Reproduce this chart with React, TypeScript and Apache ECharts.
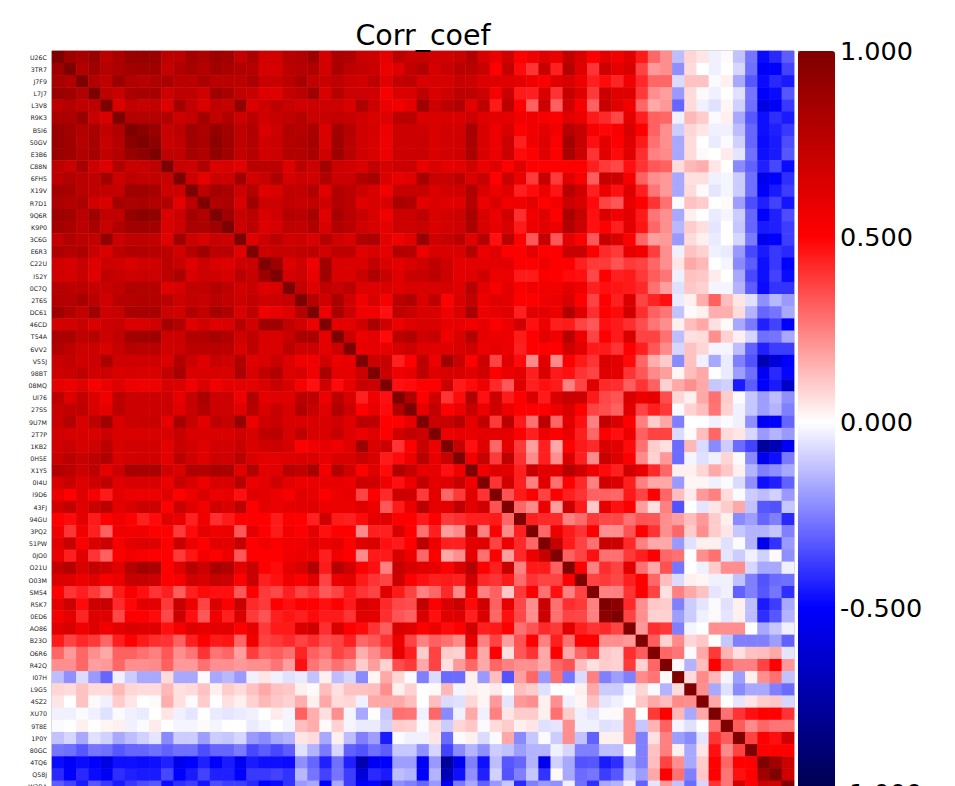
import React, { useEffect, useRef } from "react";
import * as echarts from "echarts";

const labels = ["U26C","3TR7","J7F9","L7J7","L3V8","R9K3","B5I6","50GV","E3B6","C88N","6FH5","X19V","R7D1","9Q6R","K9P0","3C6G","E6R3","C22U","I52Y","0C7Q","2T6S","DC61","46CD","T54A","6VV2","V55J","98BT","08MQ","UI76","27SS","9U7M","2T7P","1KB2","0H5E","X1Y5","0I4U","I9D6","43FJ","94GU","3PQ2","51PW","0JO0","O21U","O03M","SM54","R5K7","0ED6","AO86","B23O","O6R6","R42Q","I07H","L9G5","4SZ2","XU70","9T8E","1P0Y","80GC","4TQ6","Q58J","W3BA"];

// Upper triangle of the correlation matrix, in hundredths. Each row starts at its diagonal cell.
const r01 = [100,88,84,90,76,83,90,91,90,76,76,85,82,88,86,74,82,68,68,78,80,88,67,83,80,72,70,60,76,72,72,68,68,72,80,66,58,68,50,56,62,58,74,64,50,60,55,62,45,30,22,-13,8,5,-3,-1,-12,-27,-48,-42,-32];
const r02 = [100,80,87,79,82,86,87,87,72,80,84,79,86,83,80,79,66,66,76,78,80,67,83,75,73,71,57,63,74,79,66,71,77,76,71,50,74,48,40,72,44,79,62,40,70,60,65,37,20,22,-22,7,0,-3,0,-8,-28,-52,-50,-37];
const r03 = [100,80,75,89,80,78,81,83,77,77,82,77,77,76,82,72,72,76,84,74,72,75,70,68,75,62,73,75,65,66,66,72,70,63,63,62,60,55,52,62,65,57,44,48,43,56,42,30,30,-7,12,12,-1,3,-17,-33,-48,-42,-45];
const r04 = [100,75,72,83,84,84,70,75,75,68,87,83,74,72,63,62,73,77,87,65,78,70,70,68,53,64,64,75,65,68,75,75,70,53,71,45,44,64,40,73,62,39,70,63,63,39,22,19,-20,7,1,-3,0,-6,-27,-50,-48,-33];
const r05 = [100,65,74,72,74,63,85,74,65,74,72,92,64,70,75,72,68,70,70,70,65,82,70,58,55,60,87,70,76,80,60,75,45,76,50,31,70,31,68,53,31,71,62,55,30,17,20,-30,7,-3,-6,2,-9,-28,-58,-53,-39];
const r06 = [100,80,79,79,80,70,73,85,74,80,70,76,68,72,74,78,72,72,74,72,68,65,63,76,76,64,65,65,65,70,62,60,60,56,56,53,52,62,57,45,42,36,60,44,31,30,-3,14,10,-1,3,-17,-33,-47,-41,-45];
const r07 = [100,95,90,72,76,87,82,91,85,75,80,64,70,80,78,83,64,85,78,68,66,57,70,70,70,65,67,67,84,65,57,65,50,55,60,55,78,72,53,49,52,65,50,31,22,-10,8,5,-3,-3,-13,-30,-47,-44,-39];
const r08 = [100,93,71,74,87,83,95,87,75,79,68,71,79,80,84,65,87,77,68,65,56,70,70,71,65,67,68,83,64,57,70,44,55,63,52,85,72,47,60,50,63,45,28,22,-17,7,0,-4,-1,-9,-30,-48,-45,-35];
const r09 = [100,75,74,84,80,92,85,74,78,68,70,79,79,83,68,87,77,68,65,57,70,70,71,65,67,68,82,65,57,70,48,50,62,50,83,70,40,60,48,62,41,25,23,-17,7,1,0,4,-5,-28,-47,-45,-33];
const r10 = [100,72,70,80,65,65,62,76,76,76,63,76,70,85,70,68,64,74,66,70,70,59,65,60,60,68,57,62,50,62,50,50,50,50,50,44,39,36,47,40,33,31,7,14,16,5,0,-23,-31,-44,-36,-48];
const r11 = [100,70,60,70,70,87,67,72,82,66,70,68,80,70,70,80,84,64,59,62,84,71,71,76,64,72,50,71,58,39,71,39,62,53,32,72,70,53,31,22,20,-17,6,6,-3,-2,-10,-28,-55,-50,-41];
const r12 = [100,76,85,83,70,79,62,65,74,74,80,62,80,76,70,65,56,72,72,72,64,67,68,80,64,57,62,44,48,57,46,78,68,44,57,47,63,44,27,20,-17,7,1,-5,-2,-10,-28,-50,-45,-38];
const r13 = [100,80,82,65,87,70,70,74,72,74,68,80,76,62,65,64,83,80,60,65,62,62,79,57,64,55,56,60,50,54,70,65,48,37,33,59,50,40,28,-1,12,10,0,1,-19,-35,-44,-37,-46];
const r14 = [100,87,72,76,65,68,79,77,84,62,84,77,71,65,56,70,70,75,64,67,70,83,65,57,68,41,55,62,50,83,72,47,64,56,60,45,27,22,-17,3,0,-4,-2,-10,-30,-50,-44,-35];
const r15 = [100,70,77,63,66,75,74,80,65,80,76,68,65,60,70,70,72,64,67,68,82,65,59,64,45,57,60,57,80,70,47,50,44,62,46,30,22,-14,10,6,-5,0,-11,-30,-45,-44,-38];
const r16 = [100,62,70,77,68,70,65,78,68,65,80,82,60,56,62,90,68,72,77,62,78,47,76,50,33,72,33,60,50,33,72,65,50,30,19,20,-20,7,3,-4,0,-8,-26,-54,-50,-38];
const r17 = [100,70,72,72,74,75,67,75,75,62,65,60,80,78,57,65,64,64,79,57,62,50,50,60,50,50,71,71,50,42,39,59,55,38,22,-3,12,9,-3,-4,-20,-36,-45,-39,-42];
const r18 = [100,88,63,68,56,87,65,64,65,74,65,60,65,68,75,68,60,60,60,60,60,50,50,56,50,50,44,39,39,34,39,37,30,22,5,17,14,0,-2,-23,-32,-47,-39,-50];
const r19 = [100,66,70,58,87,65,64,71,80,71,62,71,71,76,70,60,62,68,57,57,45,45,52,50,48,47,36,50,44,45,39,32,27,-3,12,11,4,0,-17,-36,-47,-37,-48];
const r20 = [100,73,63,74,71,76,63,63,65,62,65,65,65,66,63,78,60,53,60,52,55,55,55,60,56,44,47,46,45,42,28,19,-6,11,9,-2,-2,-15,-32,-48,-40,-40];
const r21 = [100,78,68,83,68,56,65,53,76,80,64,75,50,64,74,57,62,60,50,50,56,57,64,50,37,50,44,64,37,43,47,-4,3,16,31,13,5,-6,-22,-14,-20];
const r22 = [100,57,83,70,56,56,47,75,71,65,65,56,64,83,57,59,62,44,60,60,57,80,62,41,50,48,68,41,31,27,-12,1,3,16,16,7,-15,-30,-27,-17];
const r23 = [100,60,60,68,83,68,57,62,65,65,59,59,55,59,52,57,68,47,57,44,45,37,33,47,45,41,35,27,22,3,13,17,6,1,-17,-26,-44,-37,-50];
const r24 = [100,70,57,60,48,76,80,68,71,56,64,79,59,57,57,45,50,60,55,78,57,37,50,45,65,37,37,28,-13,6,7,22,9,3,-8,-28,-27,-17];
const r25 = [100,59,59,59,65,70,62,62,62,64,68,57,59,57,44,50,50,50,68,60,45,45,40,50,44,33,23,-8,12,8,-2,-2,-13,-31,-44,-38,-38];
const r26 = [100,70,72,44,50,76,57,87,71,50,70,37,62,48,23,62,23,50,45,40,65,62,48,30,16,10,-23,12,-3,-17,-4,-25,-34,-72,-60,-50];
const r27 = [100,70,56,59,75,62,65,65,62,68,50,57,60,44,64,45,47,40,37,62,60,40,33,23,19,2,13,17,0,-4,-19,-28,-53,-42,-49];
const r28 = [100,47,48,50,50,70,45,48,56,42,33,62,44,47,45,25,37,62,42,41,32,40,31,9,17,22,17,-11,-9,-45,-32,-50,-45,-65];
const r29 = [100,80,50,68,40,48,80,47,70,45,50,64,45,65,71,70,45,36,34,65,57,59,35,8,3,17,28,10,-1,-11,-19,-13,-22];
const r30 = [100,59,74,50,57,72,57,68,57,50,50,50,57,65,50,37,35,31,62,37,44,39,-1,9,13,27,9,-3,-11,-19,-15,-25];
const r31 = [100,70,72,78,59,74,39,76,45,28,76,30,62,47,25,74,65,50,25,10,17,-25,0,0,-3,-1,-3,-22,-53,-50,-30];
const r32 = [100,57,59,59,60,60,60,50,44,57,50,59,44,30,50,47,57,31,37,37,-7,1,13,30,7,5,-8,-20,-15,-20];
const r33 = [100,71,47,62,30,60,39,19,44,17,50,45,42,65,62,48,28,10,6,-29,14,-7,-23,-10,-29,-37,-78,-70,-53];
const r34 = [100,55,72,39,75,41,23,44,22,64,44,23,71,63,50,23,9,20,-29,-2,-6,-3,8,-1,-23,-54,-47,-26];
const r35 = [100,56,62,60,44,71,60,60,78,68,56,48,44,68,59,42,30,3,3,8,17,11,3,-15,-25,-22,-17];
const r36 = [100,40,68,44,25,62,28,50,42,25,68,64,44,25,17,17,-20,2,2,-3,-1,-7,-22,-47,-44,-31];
const r37 = [100,34,45,50,37,50,44,40,31,31,30,45,37,50,30,13,4,20,25,7,-1,-10,-13,-9,-20];
const r38 = [100,30,23,57,19,71,45,11,59,47,50,19,6,25,-34,0,-5,5,10,17,-12,-33,-34,-11];
const r39 = [100,44,42,42,25,29,39,36,36,28,34,33,22,19,13,20,10,3,-23,-19,-30,-25,-42];
const r40 = [100,30,57,45,40,50,22,22,34,50,40,22,30,10,22,10,5,-11,-15,-15,-11,-25];
const r41 = [100,72,45,37,28,71,70,42,25,17,17,-20,-6,3,3,-6,-1,-15,-55,-40,-20];
const r42 = [100,31,37,47,28,28,39,44,50,30,28,0,22,28,-5,-10,-3,-9,1,-22];
const r43 = [100,50,25,41,37,62,28,17,34,-27,0,-3,10,22,22,-8,-17,-17,-3];
const r44 = [100,37,39,36,44,50,30,13,-7,3,2,-3,-3,-12,-25,-34,-29,-28];
const r45 = [100,25,25,40,50,37,6,25,17,12,-5,-3,-31,-25,-33,-27,-41];
const r46 = [100,94,42,22,11,10,-25,-10,-5,-1,-6,3,-13,-45,-38,-17];
const r47 = [100,37,22,9,9,-19,-10,-3,1,-5,3,-13,-41,-33,-15];
const r48 = [100,20,41,39,-25,-2,0,22,22,22,0,-17,-11,-3];
const r49 = [100,32,9,23,8,11,0,-11,-25,-25,-25,-19,-31];
const r50 = [100,30,27,-1,17,39,15,6,12,13,17,-5];
const r51 = [100,1,-15,13,50,31,25,25,37,50,20];
const r52 = [100,7,23,14,-2,-19,3,22,28,-12];
const r53 = [100,22,-17,-6,-23,-17,-17,-25,-29];
const r54 = [100,17,0,-5,5,10,11,-8];
const r55 = [100,28,40,47,50,50,40];
const r56 = [100,32,23,30,27,27];
const r57 = [100,37,50,47,68];
const r58 = [100,50,50,50];
const r59 = [100,87,70];
const r60 = [100,68];
const r61 = [100];

const upperRows = [r01,r02,r03,r04,r05,r06,r07,r08,r09,r10,r11,r12,r13,r14,r15,r16,r17,r18,r19,r20,r21,r22,r23,r24,r25,r26,r27,r28,r29,r30,r31,r32,r33,r34,r35,r36,r37,r38,r39,r40,r41,r42,r43,r44,r45,r46,r47,r48,r49,r50,r51,r52,r53,r54,r55,r56,r57,r58,r59,r60,r61];

// Row-major order, so that neighbouring cells overlap the same way everywhere.
const cells: [number, number, number][] = [];
labels.forEach((_, i) => {
  labels.forEach((__, j) => {
    const v = j >= i ? upperRows[i][j - i] : upperRows[j][i - j];
    cells.push([j, i, v / 100]);
  });
});

const seismic = ["#00004c", "#0000ff", "#ffffff", "#ff0000", "#7f0000"];
const FONT = "DejaVu Sans";

export default function App() {
  const ref = useRef<HTMLDivElement>(null);
  useEffect(() => {
    const chart = echarts.init(ref.current!, undefined, { renderer: "svg" });
    chart.setOption({
      animation: false,
      backgroundColor: "#ffffff",
      title: {
        text: "Corr_coef",
        left: 423,
        top: 21,
        padding: 0,
        textAlign: "center",
        textStyle: { fontFamily: FONT, fontSize: 28.5, fontWeight: "normal", color: "#000" },
      },
      visualMap: {
        type: "continuous",
        min: -1,
        max: 1,
        seriesIndex: 0,
        left: 798,
        top: 51,
        padding: 0,
        itemWidth: 37,
        itemHeight: 742,
        calculable: false,
        showLabel: false,
        text: ["", ""],
        inRange: { color: seismic },
      },
      grid: [
        { left: 52, top: 51, width: 742, height: 742, show: true, borderColor: "#aaaaaa", borderWidth: 1 },
        { left: 798, top: 51, width: 37, height: 742 },
      ],
      xAxis: [
        { type: "category", gridIndex: 0, data: labels, show: false },
        { type: "value", gridIndex: 1, show: false, min: 0, max: 1 },
      ],
      yAxis: [
        {
          type: "category",
          gridIndex: 0,
          data: labels,
          inverse: true,
          axisLine: { show: false },
          axisTick: { length: 2, alignWithLabel: true, lineStyle: { color: "#555", width: 0.7 } },
          axisLabel: { interval: 0, margin: 5, fontFamily: FONT, fontSize: 6.3, color: "#222" },
          splitLine: { show: false },
        },
        {
          type: "value",
          gridIndex: 1,
          position: "right",
          min: -1,
          max: 1,
          interval: 0.5,
          axisLine: { show: true, lineStyle: { color: "#aaaaaa" } },
          axisTick: { show: true, length: 3, lineStyle: { color: "#555" } },
          axisLabel: {
            margin: 5,
            fontFamily: FONT,
            fontSize: 25.5,
            color: "#000",
            formatter: (v: number) => v.toFixed(3),
          },
          splitLine: { show: false },
        },
      ],
      series: [
        {
          type: "heatmap",
          xAxisIndex: 0,
          yAxisIndex: 0,
          data: cells,
          silent: true,
          progressive: 0,
          itemStyle: { borderWidth: 0 },
        },
      ],
    });
    return () => chart.dispose();
  }, []);
  return (
    <div style={{ position: "fixed", left: 0, top: 0, width: 955, height: 786, overflow: "hidden", background: "#fff" }}>
      <div ref={ref} style={{ width: 955, height: 860 }} />
    </div>
  );
}
